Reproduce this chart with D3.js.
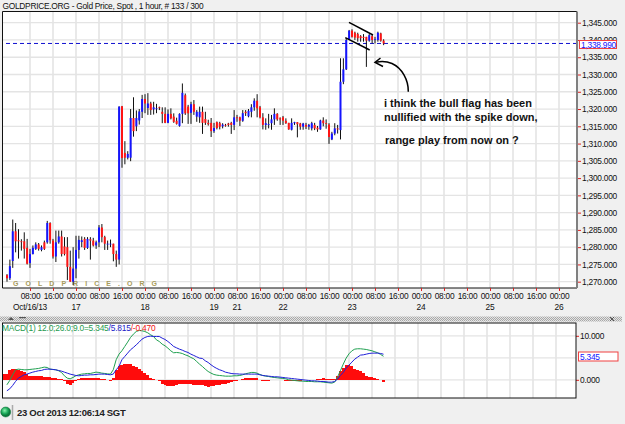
<!DOCTYPE html>
<html><head><meta charset="utf-8">
<script src="https://cdn.jsdelivr.net/npm/d3@7"></script>
<style>
html,body{margin:0;padding:0;background:#f0f0f0;overflow:hidden}
svg{display:block}
text{font-family:"Liberation Sans",Arial,sans-serif}
</style></head><body><div id="c"></div>
<script>
const opens=[1271.9,1271,1276,1284.6,1282,1281.7,1281.7,1279.8,1275.4,1278,1279.5,1280.8,1279.2,1281.4,1281.4,1287,1281.9,1277.3,1281.4,1283.1,1280.2,1280,1274.3,1270,1273.8,1279.2,1281.5,1282.4,1279.8,1282.3,1281.9,1280.5,1281.4,1285.7,1282.9,1281,1281,1281,1278,1276.4,1320.8,1307.3,1305.9,1305.9,1317.4,1315,1316.7,1319.2,1322.9,1320.3,1321.6,1319.9,1320.2,1320.5,1319.2,1318.6,1316,1318.6,1317.8,1316.6,1315.1,1318.6,1324,1320.7,1318.9,1321.4,1317.8,1317.6,1319.2,1317.1,1316,1316,1313.6,1316.2,1315.9,1315,1315.4,1315.8,1316,1315.4,1317.6,1317.6,1316.6,1319.2,1317.9,1319.2,1320.5,1322.4,1320.5,1317.6,1315.4,1315.4,1315.9,1317,1318.6,1317.3,1317.6,1316.6,1316,1314,1315.9,1316.2,1315.8,1314.9,1315.4,1314.9,1314.4,1315.4,1314.6,1314.1,1316.7,1315.9,1315.5,1311.2,1312.9,1314.4,1313.9,1327.9,1331.5,1340.2,1342.7,1342.1,1341.7,1341.1,1340.9,1340.9,1339.8,1341.1,1340,1340,1341.9,1339.8];
const highs=[1272.2,1276.4,1288,1287,1285.2,1282.3,1284.3,1282.4,1279.5,1280.5,1281.4,1281.2,1280.5,1281.9,1287.6,1287.2,1282.4,1284.8,1284.8,1284.8,1282.9,1282.9,1279,1280,1283.3,1283.3,1283.1,1282.9,1282.9,1282.9,1282.7,1281.9,1286.4,1286.7,1283.3,1281.9,1282.2,1281,1279,1320.8,1320.9,1310.7,1307.8,1320,1323.4,1319.6,1320,1324.1,1324.3,1324.6,1322.1,1322.1,1321.5,1320.7,1320.5,1320.5,1319.9,1320.2,1318.75,1317.5,1318.75,1327.4,1324.5,1321.2,1322.1,1322.6,1319.7,1320.7,1320.7,1319.2,1316.9,1317.4,1316,1316.4,1316.3,1315.9,1315.7,1316,1316.3,1319.7,1318.3,1317.8,1319.7,1319.7,1320,1321.4,1323.1,1324.3,1320.9,1318.8,1317.3,1318.6,1318.3,1320.2,1318.8,1317.6,1318,1317.3,1316,1317.3,1316.3,1316.2,1316,1316,1316,1315.7,1316.3,1316,1315.1,1316.9,1317.6,1317,1315.9,1313.4,1315.9,1315.4,1334.7,1334.7,1340.5,1342.9,1343.1,1342.4,1342.1,1341.4,1341.7,1340.9,1341.7,1341.7,1340.9,1342.4,1342.1,1340.2];
const lows=[1270,1270.5,1274,1278.5,1276.7,1279,1276.7,1275,1274,1277.9,1279.2,1279,1278.8,1279.2,1281,1281,1276.7,1275.7,1281,1277.3,1277.6,1270.5,1270,1269,1271,1276.7,1280,1279.2,1279.5,1276.4,1280.2,1279.5,1280,1281.4,1279.2,1279.2,1280,1275.9,1274.3,1275,1303,1304,1305.4,1304.9,1312,1313.6,1315.5,1317.4,1318.8,1318.3,1318.3,1318.4,1318.8,1319.7,1315.9,1315.9,1315.9,1317,1316,1315.5,1314.9,1315.9,1318.3,1315.7,1315.7,1318.3,1316.3,1316,1312.8,1315.4,1315.2,1311.9,1313.1,1314.1,1314.1,1314.4,1314.9,1314.9,1312.8,1313.9,1316.3,1315.1,1316.3,1318,1317.6,1317.6,1319.5,1317.6,1317.3,1314.1,1314,1314.4,1314,1315.4,1316.6,1315.4,1315.4,1315.7,1314,1313.8,1315.4,1311.8,1314,1314,1314.2,1314,1313.8,1313.9,1313.4,1314,1315,1314.3,1309.9,1311,1312.4,1312.9,1311.2,1327.2,1331.3,1340,1340.7,1340,1339.5,1339.5,1339.5,1332.2,1339.5,1339,1339,1339.5,1339.5,1338.5];
const closes=[1271,1274.5,1284.6,1281.7,1281.7,1281.5,1279.5,1275.2,1278,1279.8,1280.8,1279.5,1280,1279.5,1287,1282,1277.3,1281.4,1283.1,1278,1278,1274.3,1270,1273.8,1279.2,1282.1,1282,1279.8,1282.4,1281.9,1280.5,1281.4,1285.7,1282.9,1281,1281,1281,1278,1276.4,1320.7,1305.8,1305.9,1307,1317.4,1313.6,1317.4,1319.3,1322.9,1321.6,1321.6,1319.7,1320.5,1320.2,1320.4,1318.6,1316,1318.6,1317.3,1316.3,1315.7,1318.6,1324.7,1318.75,1318.75,1321.4,1319.2,1319.2,1319.2,1316,1316,1315.6,1313.6,1314.5,1314.5,1314.9,1315.5,1315.3,1315.4,1315.4,1317.6,1317.4,1316.6,1318.8,1318.8,1319.5,1320.5,1322.4,1320.2,1317.6,1315.4,1315.9,1315.6,1317,1318.6,1317,1317,1316.6,1315.9,1314.1,1316,1316.2,1315.6,1314.9,1315.8,1314.9,1315.4,1315.9,1314.4,1314.1,1316.7,1315.9,1315.7,1311.9,1312.9,1314.4,1314.1,1327.9,1331.5,1340,1342.7,1340.9,1340.7,1340.5,1340.5,1340.6,1339.8,1341.4,1340,1340.2,1342.1,1339.8,1338.99];
const macdHist=[1.29,1.29,2.27,2.42,2.42,2.27,2.05,1.74,1.29,.91,.91,.83,.76,.76,.61,.68,.53,.38,.38,.23,.15,-.23,-.98,-1.14,-.76,-.23,.23,.30,.45,.45,.38,.38,.38,.30,.23,.15,-.08,-.38,.38,2.27,3.03,3.41,3.56,3.56,3.48,3.18,2.95,2.42,1.89,1.44,.98,.45,.15,-.15,-.38,-.91,-1.21,-1.36,-1.52,-1.52,-1.29,-1.06,-.98,-.98,-.98,-1.06,-1.14,-1.14,-1.21,-1.29,-1.36,-1.59,-1.44,-1.36,-1.29,-1.21,-.98,-.91,-.68,-.53,-.38,-.23,-.08,.15,.30,.38,.38,.38,.38,0,-.23,-.30,-.30,-.08,-.15,-.08,0,-.15,-.23,-.23,-.23,-.30,-.23,-.23,-.15,-.15,-.15,-.08,0,.08,.23,.38,.08,.08,.15,.23,.91,1.89,2.65,3.26,3.41,3.03,2.5,2.2,2.05,1.59,.91,.68,.61,.30,.23,-.15,-.47];
const macdLine=[null,-1.14,-.15,1.14,2.27,2.42,2.35,2.27,2.27,2.35,2.42,2.5,2.58,2.73,2.88,2.8,2.42,2.35,2.27,2.05,1.67,.91,.38,.23,.53,.91,1.14,1.29,1.36,1.44,1.44,1.59,1.74,1.67,1.52,1.44,1.36,1.29,2.27,4.55,5.83,6.59,7.58,8.56,9.62,10.38,10.98,11.21,11.14,10.98,10.68,10.23,9.85,9.09,8.71,8.11,7.73,7.2,6.59,6.14,6.21,6.14,5.98,5.68,5.45,5.08,4.77,4.17,3.56,3.03,2.42,1.89,1.52,1.21,1.06,.98,.91,.83,.83,.83,.91,.91,.98,1.14,1.36,1.52,1.67,1.67,1.52,1.21,.98,.83,.76,.61,.53,.45,.38,.30,.23,0,-.08,-.15,-.23,-.30,-.30,-.38,-.38,-.38,-.45,-.45,-.45,-.53,-.61,-.68,-.76,-.53,.61,2.05,3.56,4.92,5.91,6.59,6.97,7.05,7.05,6.97,6.89,6.74,6.59,6.36,6.14,5.76,5.345];
const signalLine=[null,-2.5,-2.05,-1.29,-.38,.38,.76,1.14,1.29,1.52,1.74,1.89,2.05,2.12,2.35,2.42,2.42,2.35,2.27,2.12,1.97,1.74,1.52,1.29,1.14,.98,.91,.98,1.06,1.06,1.14,1.14,1.21,1.29,1.29,1.29,1.21,1.14,1.29,2.27,3.03,4.55,5.30,6.06,6.82,7.35,7.95,8.56,9.24,9.62,9.85,9.92,9.85,9.85,9.85,9.47,9.17,8.71,8.18,7.58,7.27,6.97,6.74,6.44,6.21,5.83,5.53,5.23,4.92,4.85,4.32,3.94,3.41,2.95,2.58,2.27,2.05,1.74,1.59,1.44,1.36,1.36,1.29,1.29,1.29,1.29,1.29,1.29,1.29,1.14,.98,.91,.83,.76,.68,.68,.61,.53,.45,.38,.30,.23,.15,.08,0,-.08,-.15,-.23,-.23,-.30,-.38,-.38,-.45,-.53,-.53,-.38,.15,.98,1.67,2.65,3.33,4.02,4.70,5.15,5.61,5.68,5.83,5.98,6.06,6.06,6.06,5.98,5.815];
const priceTicks=[1270,1275,1280,1285,1290,1295,1300,1305,1310,1315,1320,1325,1330,1335,1340,1345];
const macdTicks=[10,0];
const macdGrid=[10,5,0];
const hourTicks=[8,16,24,32,40,48,56,64,72,80,88,96,104,112,120,128,136,144,152,160,168,176,184,192];
const hourLabels=["08:00","16:00","00:00","08:00","16:00","00:00","08:00","16:00","00:00","08:00","16:00","00:00","08:00","16:00","00:00","08:00","16:00","00:00","08:00","16:00","00:00","08:00","16:00","00:00"];
const dateTicks=[8,24,48,72,80,96,120,144,168,192];
const dateLabels=["Oct/16/13","17","18","19","21","22","23","24","25","26"];
const lastPrice=1338.99, lastMacd=5.345, lastSignal=5.815, lastHist=-0.470;

const W=625,H=424,FS=8.4,LS=-0.25;
const svg=d3.select("#c").append("svg").attr("width",W).attr("height",H);
const defs=svg.append("defs");
const pat=defs.append("pattern").attr("id","dots").attr("width",2).attr("height",2).attr("patternUnits","userSpaceOnUse");
pat.append("rect").attr("width",2).attr("height",2).attr("fill","#e4e4e4");
pat.append("rect").attr("width",1).attr("height",1).attr("fill","#a8a8a8");
pat.append("rect").attr("x",1).attr("y",1).attr("width",1).attr("height",1).attr("fill","#a8a8a8");
const rg=defs.append("radialGradient").attr("id","led").attr("cx","40%").attr("cy","35%");
rg.append("stop").attr("offset","0%").attr("stop-color","#8ff0b0");
rg.append("stop").attr("offset","60%").attr("stop-color","#22b060");
rg.append("stop").attr("offset","100%").attr("stop-color","#0c7a3c");

const L=2.5,R=577,T1=11.5,B1=288,T2=323,B2=398;
const x=d3.scaleLinear().domain([0,132]).range([7,386.5]);
const xm=d3.scaleLinear().domain([0,132]).range([4,383.5]);
const y=d3.scaleLinear().domain([1270,1345]).range([281.7,22.7]);
const ym=d3.scaleLinear().domain([0,10]).range([379.8,335.8]);
const bars=d3.range(opens.length);

svg.append("rect").attr("width",W).attr("height",H).attr("fill","#f0f0f0");
svg.append("text").attr("x",2.5).attr("y",9.3).attr("font-size",FS).attr("letter-spacing",-0.28).attr("fill","#111").text("GOLDPRICE.ORG - Gold Price, Spot , 1 hour, # 133 / 300");

svg.append("rect").attr("x",L).attr("y",T1).attr("width",R-L).attr("height",B1-T1).attr("fill","#fff");
svg.append("rect").attr("x",L).attr("y",T2).attr("width",R-L-1).attr("height",B2-T2).attr("fill","#fff");

const grid1=svg.append("g").attr("fill","none");
grid1.selectAll("line.v").data(hourTicks).join("line").attr("x1",d=>x(d)).attr("x2",d=>x(d)).attr("y1",T1).attr("y2",B1).attr("stroke","#dedede").attr("stroke-width",1.3);
grid1.selectAll("line.h").data(priceTicks).join("line").attr("x1",L).attr("x2",R).attr("y1",d=>y(d)).attr("y2",d=>y(d)).attr("stroke","#e4e4e4").attr("stroke-width",1.3);
const grid2=svg.append("g");
grid2.selectAll("line.v").data(hourTicks).join("line").attr("x1",d=>xm(d)).attr("x2",d=>xm(d)).attr("y1",T2).attr("y2",B2).attr("stroke","#dedede").attr("stroke-width",1.3);
grid2.selectAll("line.h").data(macdGrid).join("line").attr("x1",L).attr("x2",R-1).attr("y1",d=>ym(d)).attr("y2",d=>ym(d)).attr("stroke","#e4e4e4").attr("stroke-width",1.3);

svg.append("text").attr("x",13).attr("y",285.5).attr("font-size",7).attr("font-weight","bold").attr("fill","#a89c5c").attr("textLength",144).attr("lengthAdjust","spacing").text("GOLDPRICE.ORG");

svg.append("line").attr("x1",6).attr("x2",R).attr("y1",y(lastPrice)).attr("y2",y(lastPrice)).attr("stroke","#1010d0").attr("stroke-width",1).attr("stroke-dasharray","4,3");

const c=svg.append("g");
c.selectAll("line").data(bars).join("line")
 .attr("x1",i=>x(i)).attr("x2",i=>x(i)).attr("y1",i=>y(highs[i])).attr("y2",i=>y(lows[i]))
 .attr("stroke","#111").attr("stroke-width",1);
c.selectAll("rect").data(bars).join("rect")
 .attr("x",i=>x(i)-1).attr("width",2)
 .attr("y",i=>Math.min(y(opens[i]),y(closes[i])))
 .attr("height",i=>Math.max(0.8,Math.abs(y(opens[i])-y(closes[i]))))
 .attr("fill",i=>closes[i]>=opens[i]?"#1414ff":"#ff1414");

const ann=svg.append("g").attr("fill","none").attr("stroke","#000").attr("stroke-width",1.5);
ann.append("line").attr("x1",349).attr("y1",22.3).attr("x2",373).attr("y2",35);
ann.append("line").attr("x1",345.3).attr("y1",37.7).attr("x2",369.7).attr("y2",50);
ann.append("path").attr("d","M408.3,91.7C408.5,80 402,68 392,63.5C387,61.5 382,61 376,62.3");
ann.append("path").attr("d","M380.5,58L375,62.3L383,66.5");
const note=svg.append("g").attr("font-size",11).attr("font-weight","bold").attr("fill","#111");
note.append("text").attr("x",384).attr("y",106.7).text("i think the bull flag has been");
note.append("text").attr("x",384).attr("y",120.7).attr("word-spacing",0.2).text("nullified with the spike down,");
note.append("text").attr("x",385).attr("y",144.3).text("range play from now on ?");

svg.append("path").attr("d",`M${L},${B1}V${T1}H${R}`).attr("fill","none").attr("stroke","#111");
svg.append("line").attr("x1",L).attr("x2",R).attr("y1",B1).attr("y2",B1).attr("stroke","#111");
svg.append("line").attr("x1",R).attr("x2",R).attr("y1",T1).attr("y2",B1).attr("stroke","#808080").attr("stroke-width",2);

const styleAxis=g=>{g.select(".domain").remove();g.selectAll(".tick line").attr("stroke","#e02020");g.selectAll("text").attr("fill","#111").attr("font-size",FS).attr("letter-spacing",LS).attr("font-family",'"Liberation Sans",Arial,sans-serif');};
svg.append("g").attr("transform",`translate(0,${B1})`)
 .call(d3.axisBottom(x).tickValues(hourTicks).tickSize(3).tickPadding(2.3).tickFormat((d,i)=>hourLabels[i])).call(styleAxis);
const dateRow=svg.append("g").attr("font-size",FS).attr("letter-spacing",LS).attr("fill","#111").attr("text-anchor","middle");
dateRow.selectAll("text").data(dateTicks).join("text").attr("x",d=>x(d)).attr("y",310).text((d,i)=>dateLabels[i]);
svg.append("g").attr("transform",`translate(${R+1},0)`)
 .call(d3.axisRight(y).tickValues(priceTicks).tickSize(3).tickPadding(1).tickFormat(d3.format(",.3f"))).call(styleAxis);
svg.append("g").attr("transform",`translate(${R-1},0)`)
 .call(d3.axisRight(ym).tickValues(macdTicks).tickSize(3).tickPadding(1).tickFormat(d3.format(".3f"))).call(styleAxis);

svg.append("rect").attr("x",579.5).attr("y",40.5).attr("width",37).attr("height",8).attr("fill","#fff").attr("stroke","#f04040");
svg.append("text").attr("x",581).attr("y",47.6).attr("font-size",FS).attr("letter-spacing",LS).attr("fill","#1414ff").text(d3.format(",.3f")(lastPrice));
svg.append("rect").attr("x",578.5).attr("y",352).attr("width",39.5).attr("height",9).attr("fill","#fff").attr("stroke","#f04040");
svg.append("text").attr("x",580).attr("y",359.6).attr("font-size",FS).attr("letter-spacing",LS).attr("fill","#1414ff").text(d3.format(".3f")(lastMacd));

svg.append("rect").attr("x",0).attr("y",316.5).attr("width",622).attr("height",5).attr("fill","url(#dots)");
svg.append("path").attr("d","M8,320L11,317L14,320Z").attr("fill","#555");
svg.append("rect").attr("x",19).attr("y",317).attr("width",7).attr("height",1.2).attr("fill","#555");
svg.append("path").attr("d","M610,317L614,321M614,317L610,321").attr("stroke","#555").attr("fill","none");

const hist=svg.append("g");
const band=xm(1)-xm(0);
hist.selectAll("rect").data(macdHist).join("rect")
 .attr("x",(d,i)=>xm(i)-band/2).attr("width",band)
 .attr("y",d=>Math.min(ym(d),ym(0))).attr("height",d=>Math.max(0.5,Math.abs(ym(d)-ym(0))))
 .attr("fill","#ff0c0c").attr("shape-rendering","crispEdges");
const ln=d3.line().defined(d=>d!==null).x((d,i)=>xm(i)).y(d=>ym(d));
svg.append("path").attr("d",ln(macdLine)).attr("fill","none").attr("stroke","#1fa050").attr("stroke-width",1);
svg.append("path").attr("d",ln(signalLine)).attr("fill","none").attr("stroke","#2020d8").attr("stroke-width",1);
svg.append("rect").attr("x",L).attr("y",T2).attr("width",R-L-1).attr("height",B2-T2).attr("fill","none").attr("stroke","#111");

const leg=svg.append("text").attr("x",2).attr("y",330.7).attr("font-size",FS).attr("letter-spacing",-0.2);
leg.append("tspan").attr("fill","#1f9a4e").text(`MACD(1) 12.0;26.0;9.0=${lastMacd.toFixed(3)}`);
leg.append("tspan").attr("fill","#2020c8").text(`/${lastSignal.toFixed(3)}`);
leg.append("tspan").attr("fill","#f01010").text(`/${lastHist.toFixed(3)}`);

svg.append("circle").attr("cx",5.7).attr("cy",412).attr("r",5).attr("fill","url(#led)").attr("stroke","#0a6a34").attr("stroke-width",.5);
svg.append("line").attr("x1",12.5).attr("x2",12.5).attr("y1",405).attr("y2",420).attr("stroke","#aaa").attr("stroke-width",1.5);
svg.append("text").attr("x",17).attr("y",416).attr("font-size",9.5).attr("font-weight","bold").attr("letter-spacing",-0.3).attr("fill","#222").text("23 Oct 2013 12:06:14 SGT");
</script></body></html>
